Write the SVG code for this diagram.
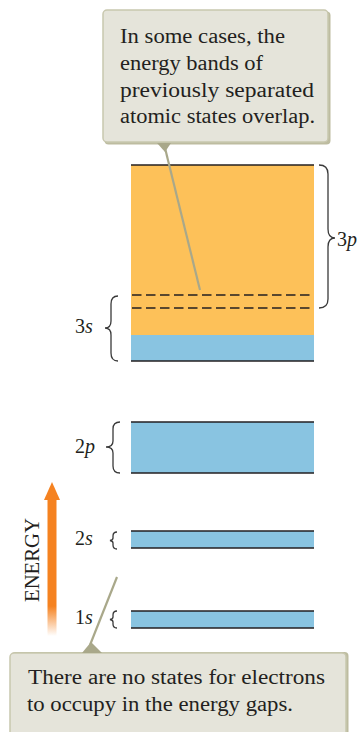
<svg xmlns="http://www.w3.org/2000/svg" width="360" height="732" viewBox="0 0 360 732">
<style>
.box{fill:#e5e4da;stroke:#c8c7ae;stroke-width:1.5}
.shadow{fill:#bdbca0}
.ptr{fill:#a9a88a}
.lead{stroke:#a9a88a;stroke-width:2.2;fill:none}
.note{font-family:'Liberation Serif','DejaVu Serif',serif;font-size:20.5px;fill:#231f20}
.lbl{font-family:'Liberation Serif','DejaVu Serif',serif;font-size:20px;fill:#231f20}
.it{font-style:italic}
.edge{stroke:#231f20;stroke-width:1.5}
.blue{fill:#89c4e1}
.orange{fill:#fdc159}
.brace{fill:none;stroke:#3a3a3a;stroke-width:1.3}
.dash{stroke:#231f20;stroke-width:1.3;stroke-dasharray:9.5 4.5}
</style>
<defs>
<linearGradient id="fade" x1="0" y1="500" x2="0" y2="636" gradientUnits="userSpaceOnUse">
<stop offset="0" stop-color="#f58220"/>
<stop offset="0.78" stop-color="#f58220"/>
<stop offset="1" stop-color="#f58220" stop-opacity="0"/>
</linearGradient>
</defs>

<g id="bands">
<g id="band-3">
<rect class="orange" x="131" y="165" width="183" height="170"/>
<rect class="blue" x="131" y="335" width="183" height="26"/>
<line class="edge" x1="131" y1="165" x2="314" y2="165"/>
<line class="edge" x1="131" y1="361" x2="314" y2="361"/>
<line class="dash" x1="132" y1="295" x2="314" y2="295"/>
<line class="dash" x1="132" y1="308" x2="314" y2="308"/>
</g>
<g id="band-2p">
<rect class="blue" x="131" y="422" width="183" height="51"/>
<line class="edge" x1="131" y1="422" x2="314" y2="422"/>
<line class="edge" x1="131" y1="473" x2="314" y2="473"/>
</g>
<g id="band-2s">
<rect class="blue" x="131" y="531" width="183" height="17"/>
<line class="edge" x1="131" y1="531" x2="314" y2="531" stroke="#555"/>
<line class="edge" x1="131" y1="548" x2="314" y2="548"/>
</g>
<g id="band-1s">
<rect class="blue" x="131" y="611" width="183" height="17"/>
<line class="edge" x1="131" y1="611" x2="314" y2="611" stroke="#555"/>
<line class="edge" x1="131" y1="628" x2="314" y2="628"/>
</g>
</g>

<g id="labels">
<g id="label-3p">
<path class="brace" d="M319,165 Q328,165 328,174 L328,229 Q328,238 335,238 Q328,238 328,247 L328,299 Q328,308 319,308"/>
<text class="lbl" x="337" y="246">3<tspan class="it">p</tspan></text>
</g>
<g id="label-3s">
<path class="brace" d="M118,296 Q111,296 111,304 L111,321 Q111,328 105,328 Q111,328 111,335 L111,353 Q111,361 118,361"/>
<text class="lbl" x="75" y="333">3<tspan class="it">s</tspan></text>
</g>
<g id="label-2p">
<path class="brace" d="M120,422 Q113,422 113,429 L113,441 Q113,447 106,447 Q113,447 113,453 L113,466 Q113,473 120,473"/>
<text class="lbl" x="75" y="453">2<tspan class="it">p</tspan></text>
</g>
<g id="label-2s">
<path class="brace" d="M117,532 Q113,532 113,536 L113,538 Q113,540 110,540.5 Q113,541 113,543 L113,545 Q113,549 117,549"/>
<text class="lbl" x="75" y="545">2<tspan class="it">s</tspan></text>
</g>
<g id="label-1s">
<path class="brace" d="M117,611 Q113,611 113,615 L113,617 Q113,619 110,619.5 Q113,620 113,622 L113,624 Q113,628 117,628"/>
<text class="lbl" x="75" y="624">1<tspan class="it">s</tspan></text>
</g>
</g>

<g id="energy-axis">
<path d="M47.5,500 L56.5,500 L56.5,636 L47.5,636 Z" fill="url(#fade)"/>
<path d="M52,482 L60,500 L44,500 Z" fill="#f58220"/>
<text class="lbl" font-size="17" transform="translate(39,602) rotate(-90)" textLength="84" lengthAdjust="spacingAndGlyphs">ENERGY</text>
</g>

<g id="connectors">
<line class="lead" x1="165" y1="148" x2="200" y2="290"/>
<line class="lead" x1="90" y1="645" x2="117" y2="577"/>
</g>

<g id="note-top">
<rect class="shadow" x="104.5" y="11.5" width="226" height="133" rx="4"/>
<rect class="box" x="103" y="10" width="225" height="132" rx="4"/>
<path class="ptr" d="M157,143 L171,143 L165,152 Z"/>
<text class="note" x="120" y="43" textLength="165" lengthAdjust="spacingAndGlyphs">In some cases, the</text>
<text class="note" x="120" y="70" textLength="143" lengthAdjust="spacingAndGlyphs">energy bands of</text>
<text class="note" x="120" y="97" textLength="194" lengthAdjust="spacingAndGlyphs">previously separated</text>
<text class="note" x="120" y="123" textLength="195" lengthAdjust="spacingAndGlyphs">atomic states overlap.</text>
</g>

<g id="note-bottom">
<rect class="shadow" x="11.5" y="652" width="337" height="90" rx="4"/>
<rect class="box" x="10" y="653" width="336" height="90" rx="4"/>
<path class="ptr" d="M82,653 L102,653 L91,642 Z"/>
<text class="note" x="28" y="684" textLength="297" lengthAdjust="spacingAndGlyphs">There are no states for electrons</text>
<text class="note" x="27" y="711" textLength="266" lengthAdjust="spacingAndGlyphs">to occupy in the energy gaps.</text>
</g>
</svg>
